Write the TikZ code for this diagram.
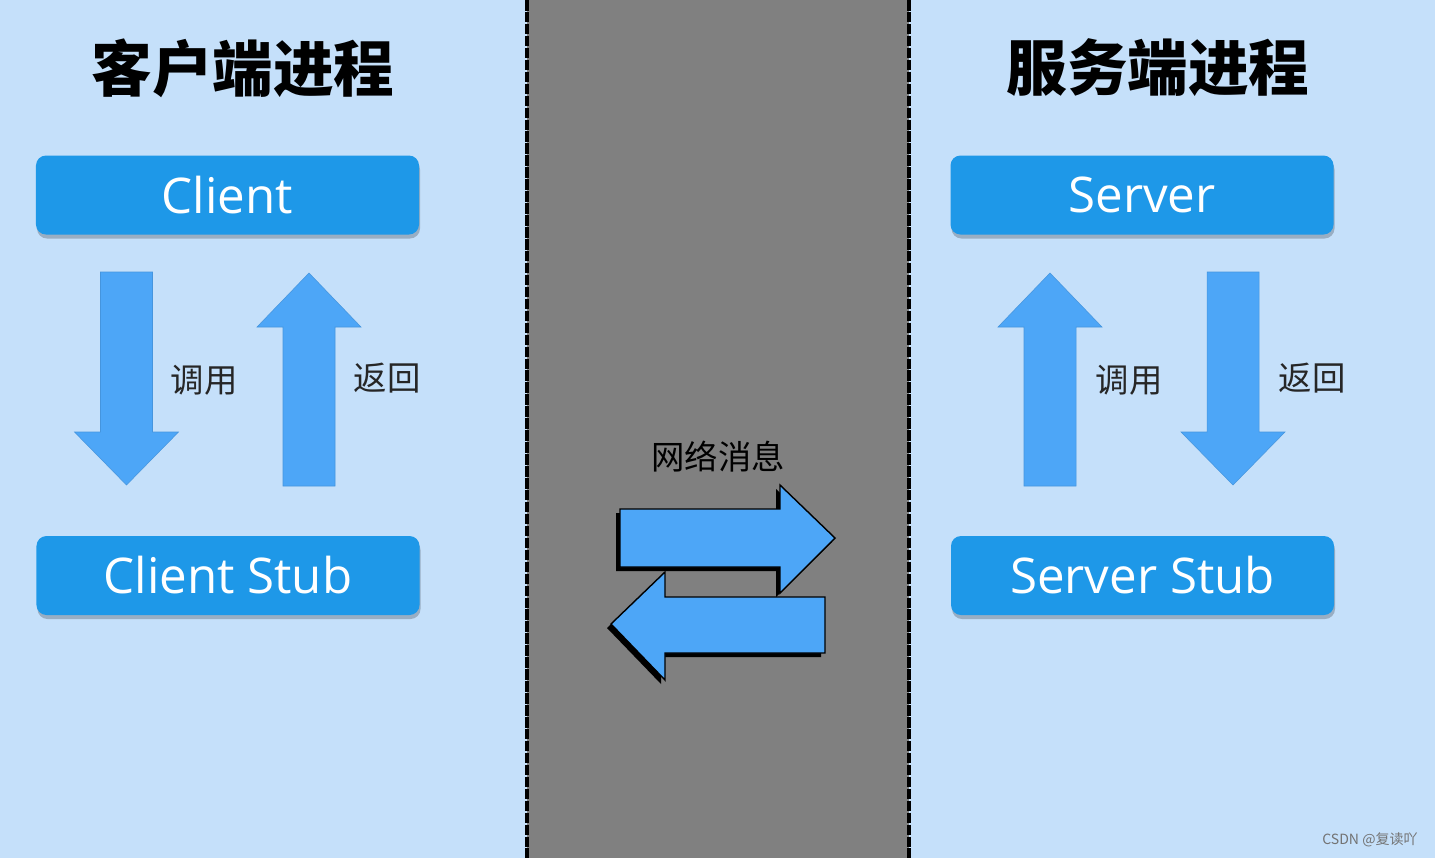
\documentclass[tikz,border=0pt]{standalone}
\usepackage{fontspec}
\setmainfont{Open Sans}
\newfontfamily\cjk{Noto Sans CJK SC}
\usetikzlibrary{shadows}
\definecolor{cbg}{HTML}{C5E0FA}
\definecolor{cnet}{HTML}{808080}
\definecolor{cbox}{HTML}{1E98E8}
\definecolor{carrow}{HTML}{4DA6F7}
\tikzset{
  every picture/.style={line width=1pt},
  title/.style={font=\cjk\bfseries\fontsize{34.5}{40}\selectfont, text=black},
  stubbox/.style={fill=cbox, rounded corners=2mm, minimum width=76.6mm, minimum height=15.8mm,
    text=white, font=\fontsize{28}{32}\selectfont,
    drop shadow={shadow xshift=0.2mm, shadow yshift=-0.8mm, fill=black!40!cbg, opacity=.55}},
  label/.style={font=\cjk\fontsize{19}{22}\selectfont, text=black!85},
  blockarrow/.style={fill=carrow, draw=carrow!90!black, line width=0.3pt},
  netarrow/.style={fill=carrow, draw=black, line width=0.8pt, line join=miter},
  border/.style={draw=black, line width=2.3pt, dash pattern=on 6pt off 0.8pt},
}
% x tail, y tail, y head base, y tip
\newcommand{\vblock}[4]{%
  \draw[blockarrow] ({#1-26},#2) -- ({#1-26},#3) -- ({#1-52},#3) -- (#1,#4)
    -- ({#1+52},#3) -- ({#1+26},#3) -- ({#1+26},#2) -- cycle;}

\begin{document}
\begin{tikzpicture}[x=0.2mm, y=-0.2mm]
  \useasboundingbox (0,0) rectangle (1435,858);
  \fill[cbg] (0,0) rectangle (1435,858);
  \fill[cnet] (527,0) rectangle (909,858);
  \draw[border] (527,0) -- (527,858);
  \draw[border] (909,0) -- (909,858);

  \node[title] (ctitle) at (243,68) {客户端进程};
  \node[title] (stitle) at (1158,68) {服务端进程};

  \node[stubbox] (client) at (227.5,195) {Client};
  \node[stubbox] (cstub) at (228,575.5) {Client Stub};
  \node[stubbox] (server) at (1142,195) {Server};
  \node[stubbox] (sstub) at (1142.5,575.5) {Server Stub};

  \vblock{126.5}{272}{432}{485}
  \vblock{309}{486}{327}{273}
  \vblock{1050}{486}{327}{273}
  \vblock{1233}{272}{432}{485}

  \node[label] (ccall) at (204,380) {调用};
  \node[label] (cret) at (387,378) {返回};
  \node[label] (scall) at (1129,380) {调用};
  \node[label] (sret) at (1312,378) {返回};

  \node[label, text=black] (net) at (718,457) {网络消息};

  % request and reply
  \fill[black] (616,513) -- (776,513) -- (776,489) -- (832,542) -- (776,597) -- (776,571) -- (616,571) -- cycle;
  \draw[netarrow] (620,509) -- (780,509) -- (780,485) -- (835,538) -- (780,593) -- (780,567) -- (620,567) -- cycle;
  \fill[black] (821,601) -- (661,601) -- (661,576) -- (607,628) -- (661,684) -- (661,657) -- (821,657) -- cycle;
  \draw[netarrow] (825,597) -- (665,597) -- (665,572) -- (611,624) -- (665,680) -- (665,653) -- (825,653) -- cycle;

  \node[font=\cjk\fontsize{8}{10}\selectfont, text=black!55] (mark) at (1370,840) {CSDN @复读吖};
\end{tikzpicture}
\end{document}
